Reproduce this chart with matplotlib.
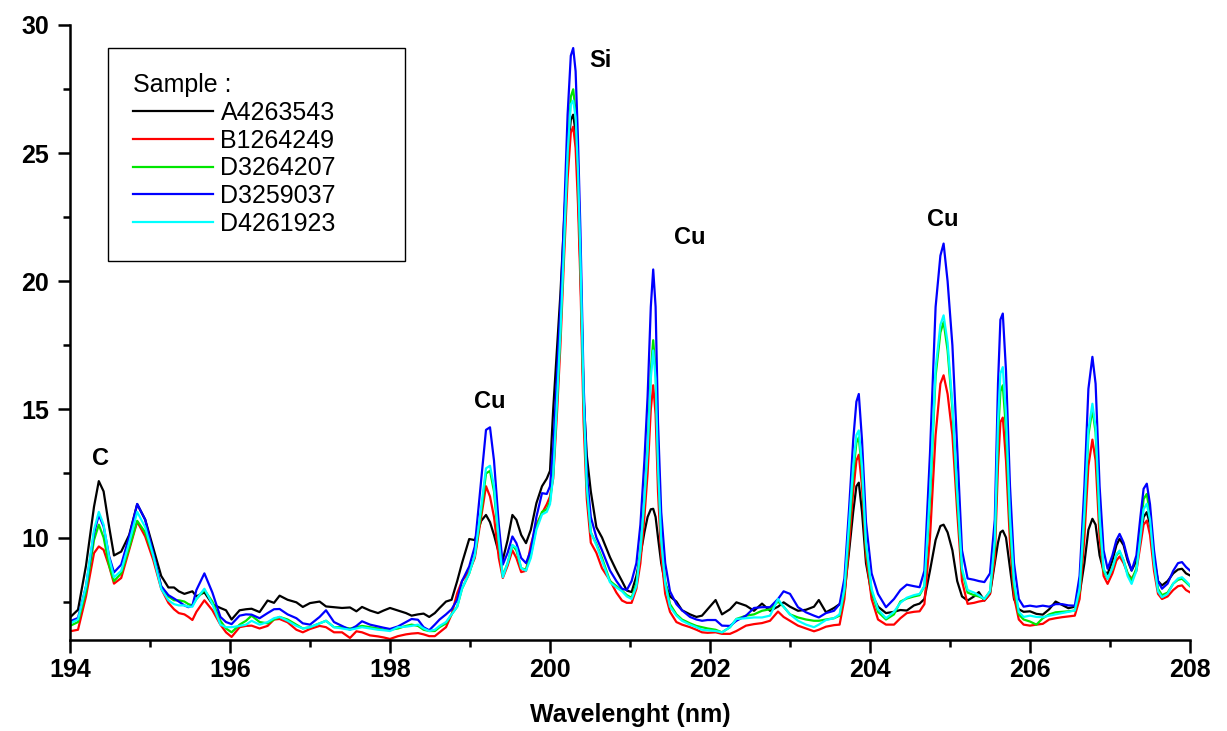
import matplotlib
matplotlib.use("Agg")
import matplotlib.pyplot as plt
from matplotlib.ticker import MultipleLocator

plt.rcParams['font.family'] = ['Liberation Sans', 'DejaVu Sans']

# ---------------- data ----------------
wavelength = [
    194.0, 194.1, 194.2, 194.3, 194.36, 194.42, 194.49, 194.55, 194.64, 194.74, 194.84, 194.94, 195.04,
    195.14, 195.23, 195.3, 195.36, 195.43, 195.48, 195.53, 195.58, 195.68, 195.78, 195.88, 195.95, 196.02,
    196.12, 196.2, 196.27, 196.37, 196.47, 196.55, 196.62, 196.72, 196.83, 196.91, 197.0, 197.12, 197.2, 197.3, 197.4, 197.5, 197.58, 197.65, 197.75, 197.85, 197.92, 198.0,
    198.1, 198.2, 198.27, 198.35, 198.42, 198.49, 198.56, 198.62, 198.7, 198.77, 198.84, 198.9, 198.99, 199.06, 199.14, 199.2, 199.25, 199.3, 199.36, 199.41, 199.47, 199.53, 199.58, 199.64, 199.7, 199.76, 199.83, 199.9, 199.96, 200.0,
    200.04, 200.09, 200.13, 200.17, 200.22, 200.26, 200.29, 200.32, 200.35, 200.38, 200.42, 200.46, 200.51, 200.58, 200.65, 200.75, 200.83, 200.9, 200.96,
    201.02, 201.08, 201.13, 201.18, 201.22, 201.26, 201.29, 201.32, 201.35, 201.39, 201.44, 201.5, 201.58, 201.65,
    201.75, 201.83, 201.9, 201.97, 202.07, 202.15, 202.25, 202.33, 202.45, 202.55, 202.65, 202.75, 202.85, 202.92, 203.0, 203.1, 203.2, 203.3, 203.36, 203.45, 203.55, 203.62,
    203.68, 203.74, 203.79, 203.83, 203.86, 203.9, 203.95, 204.02, 204.1, 204.2, 204.3, 204.38, 204.46, 204.55, 204.62,
    204.68, 204.75, 204.82, 204.88, 204.92, 204.97, 205.03, 205.09, 205.15, 205.22, 205.3, 205.36, 205.43, 205.5, 205.56,
    205.6, 205.63, 205.66, 205.7, 205.75, 205.8, 205.86, 205.92, 206.0, 206.08, 206.16, 206.24, 206.32, 206.4, 206.48, 206.56,
    206.62, 206.68, 206.73, 206.78, 206.82, 206.87, 206.92, 206.97, 207.03, 207.08, 207.12, 207.17, 207.22, 207.27,
    207.33, 207.38, 207.42, 207.46, 207.5, 207.55, 207.6, 207.65, 207.72, 207.79, 207.85, 207.9, 207.95, 208.0,
]

a4263543 = [
    6.88, 7.18, 8.9, 11.2, 12.2, 11.8, 10.4, 9.3, 9.45, 10.1, 11.3, 10.7, 9.6,
    8.5, 8.05, 8.05, 7.9, 7.8, 7.85, 7.9, 7.7, 7.86, 7.4, 7.25, 7.16, 6.8,
    7.16, 7.2, 7.22, 7.09, 7.54, 7.45, 7.73, 7.57, 7.47, 7.29, 7.44, 7.5, 7.31, 7.28, 7.25, 7.27, 7.12, 7.29, 7.15, 7.05, 7.15, 7.25,
    7.15, 7.05, 6.95, 7.0, 7.03, 6.9, 7.05, 7.25, 7.5, 7.57, 8.3, 9.0, 9.94, 9.9, 10.65, 10.88, 10.6, 10.1, 9.4, 9.13, 9.9, 10.88, 10.69, 10.1, 9.78, 10.3, 11.34, 12.0, 12.3, 12.6,
    15.0, 17.5, 19.5, 22.0, 25.0, 26.3, 26.5, 25.8, 23.8, 20.5, 15.5, 13.2, 11.8, 10.4, 10.0, 9.23, 8.71, 8.3, 7.93,
    7.87, 8.5, 9.3, 10.2, 10.8, 11.1, 11.12, 10.8, 10.0, 9.0, 8.2, 7.7, 7.5, 7.16,
    7.0, 6.9, 6.95, 7.2, 7.56, 7.0, 7.2, 7.47, 7.34, 7.14, 7.42, 7.14, 7.3, 7.47, 7.3, 7.14, 7.18, 7.3, 7.56, 7.08, 7.25, 7.4,
    7.8, 9.5, 11.0, 12.0, 12.14, 11.0, 9.0, 7.8, 7.3, 7.05, 7.1, 7.17, 7.15, 7.35, 7.42,
    7.6, 8.71, 9.9, 10.45, 10.5, 10.2, 9.5, 8.3, 7.7, 7.54, 7.7, 7.87, 7.54, 7.8, 9.0,
    9.8, 10.2, 10.27, 10.0, 8.8, 7.6, 7.2, 7.1, 7.12, 7.02, 6.99, 7.2, 7.5, 7.37, 7.24, 7.3,
    7.8, 9.0, 10.3, 10.73, 10.5, 9.3, 8.7, 8.58, 9.1, 9.7, 9.95, 9.7, 9.1, 8.71,
    9.1, 10.0, 10.8, 10.99, 10.5, 9.2, 8.3, 8.13, 8.3, 8.6, 8.75, 8.78, 8.6, 8.52,
]

b1264249 = [
    6.34, 6.4, 7.7, 9.39, 9.65, 9.52, 8.87, 8.2, 8.42, 9.52, 10.62, 10.04, 9.13,
    8.0, 7.45, 7.2, 7.05, 7.0, 6.9, 6.78, 7.1, 7.55, 7.16, 6.6, 6.3, 6.12,
    6.5, 6.55, 6.56, 6.45, 6.55, 6.8, 6.82, 6.69, 6.4, 6.3, 6.43, 6.55, 6.5, 6.3, 6.3, 6.08, 6.34, 6.3, 6.18, 6.14, 6.1, 6.04,
    6.15, 6.22, 6.25, 6.27, 6.22, 6.15, 6.15, 6.3, 6.5, 7.0, 7.83, 8.3, 8.68, 9.2, 10.8, 12.0, 11.6, 10.8, 9.2, 8.42, 8.9, 9.5, 9.2, 8.65, 8.7, 9.7, 10.5, 10.95, 11.3, 11.6,
    12.3, 15.0, 17.5, 20.5, 24.0, 25.8, 26.03, 25.2, 23.0, 20.0, 14.5, 11.5, 9.8, 9.4, 8.8, 8.32, 7.85, 7.54, 7.45,
    7.45, 8.0, 9.0, 10.8, 12.5, 15.0, 15.94, 14.8, 11.8, 9.3, 7.8, 7.1, 6.7, 6.6,
    6.5, 6.4, 6.3, 6.28, 6.3, 6.24, 6.24, 6.35, 6.56, 6.62, 6.66, 6.75, 7.11, 6.9, 6.75, 6.56, 6.45, 6.34, 6.4, 6.52, 6.58, 6.6,
    7.6, 9.8, 11.8, 13.0, 13.23, 12.0, 9.3, 7.6, 6.8, 6.6, 6.6, 6.85, 7.05, 7.1, 7.12,
    7.4, 10.0, 14.0, 16.0, 16.33, 15.6, 14.0, 11.0, 8.3, 7.41, 7.45, 7.5, 7.54, 7.8, 9.2,
    12.8, 14.5, 14.68, 13.0, 9.8, 7.7, 6.8, 6.6, 6.56, 6.6, 6.63, 6.8, 6.85, 6.89, 6.92, 6.95,
    7.6, 10.0, 12.8, 13.82, 13.0, 10.0, 8.5, 8.19, 8.6, 9.1, 9.26, 9.0, 8.6, 8.39,
    8.7, 9.7, 10.5, 10.66, 10.1, 8.7, 7.8, 7.6, 7.7, 7.95, 8.1, 8.13, 7.95, 7.86,
]

d3264207 = [
    6.55, 6.7, 7.9, 9.9, 10.5, 10.0, 8.9, 8.3, 8.6, 9.6, 10.65, 10.2, 9.3,
    8.1, 7.7, 7.55, 7.55, 7.5, 7.4, 7.35, 7.6, 7.95, 7.5, 6.75, 6.45, 6.3,
    6.6, 6.75, 6.95, 6.7, 6.65, 6.8, 6.9, 6.8, 6.6, 6.45, 6.5, 6.65, 6.75, 6.5, 6.5, 6.45, 6.5, 6.55, 6.5, 6.45, 6.4, 6.4,
    6.45, 6.55, 6.6, 6.55, 6.4, 6.35, 6.35, 6.5, 6.65, 7.0, 7.3, 8.0, 8.6, 9.3, 11.0, 12.5, 12.6, 11.8, 9.8, 8.5, 9.0, 9.7, 9.5, 8.8, 8.75, 9.3, 10.4, 11.0, 11.1, 11.4,
    12.5, 15.5, 18.0, 21.0, 25.0, 27.2, 27.49, 26.6, 24.5, 21.0, 15.5, 12.0, 10.2, 9.75, 9.2, 8.3, 8.1, 7.93, 7.75,
    7.65, 8.2, 9.5, 11.5, 13.5, 16.5, 17.7, 16.5, 13.0, 10.0, 8.3, 7.4, 7.0, 6.8,
    6.65, 6.55, 6.5, 6.45, 6.4, 6.3, 6.5, 6.82, 6.95, 7.0, 7.14, 7.2, 7.5, 7.3, 7.0, 6.88, 6.8, 6.75, 6.75, 6.8, 6.85, 6.95,
    7.9, 10.3, 12.5, 13.7, 13.9, 12.6, 9.6, 7.9, 7.1, 6.8, 7.0, 7.5, 7.62, 7.7, 7.75,
    8.1, 11.5, 16.3, 18.0, 18.41, 17.3, 15.0, 11.6, 8.7, 7.85, 7.75, 7.7, 7.6, 7.9, 9.7,
    14.0, 15.7, 15.94, 14.2, 10.5, 8.1, 7.0, 6.8, 6.72, 6.6, 6.85, 7.0, 7.08, 7.1, 7.12, 7.15,
    7.9, 10.8, 14.0, 15.0, 14.1, 10.6, 8.7, 8.39, 8.8, 9.3, 9.45, 9.1, 8.6, 8.32,
    8.8, 10.3, 11.5, 11.7, 10.9, 9.1, 8.0, 7.75, 7.85, 8.2, 8.35, 8.39, 8.25, 8.1,
]

d3259037 = [
    6.73, 6.86, 8.1, 10.17, 10.88, 10.43, 9.26, 8.64, 8.94, 10.04, 11.31, 10.69, 9.39,
    8.1, 7.75, 7.62, 7.5, 7.35, 7.28, 7.35, 7.95, 8.6, 7.85, 6.9, 6.7, 6.62,
    6.95, 7.0, 6.99, 6.85, 7.05, 7.2, 7.21, 7.0, 6.85, 6.65, 6.6, 6.9, 7.16, 6.7, 6.55, 6.4, 6.55, 6.73, 6.6, 6.53, 6.48, 6.43,
    6.53, 6.7, 6.82, 6.79, 6.5, 6.38, 6.6, 6.8, 7.0, 7.2, 7.57, 8.3, 8.87, 9.65, 12.25, 14.2, 14.3, 13.0, 10.5, 8.94, 9.4, 10.04, 9.78, 9.2, 9.0, 9.5, 10.8, 11.73, 11.7, 12.0,
    13.5, 16.5, 19.0, 22.0, 26.5, 28.8, 29.1, 28.2, 25.5, 22.0, 16.0, 12.5, 10.8, 10.0, 9.5, 8.71, 8.3, 8.0, 7.95,
    8.3, 9.0, 10.5, 13.0, 15.5, 19.0, 20.46, 19.0, 14.5, 11.0, 9.0, 7.9, 7.4, 7.16,
    6.9, 6.8, 6.75, 6.78, 6.78, 6.56, 6.55, 6.75, 6.95, 7.25, 7.28, 7.28, 7.6, 7.9, 7.8, 7.28, 7.08, 6.95, 6.88, 7.05, 7.14, 7.4,
    8.4, 11.2, 13.8, 15.3, 15.6, 13.8, 10.6, 8.6, 7.8, 7.28, 7.6, 7.95, 8.16, 8.1, 8.06,
    8.7, 13.3, 19.0, 21.0, 21.47, 20.0, 17.5, 13.5, 9.5, 8.4, 8.35, 8.3, 8.26, 8.6, 10.7,
    16.0, 18.5, 18.74, 16.5, 12.0, 9.0, 7.6, 7.3, 7.34, 7.3, 7.34, 7.3, 7.4, 7.4, 7.35, 7.34,
    8.5, 12.0, 15.8, 17.05, 16.0, 12.0, 9.5, 8.78, 9.3, 9.9, 10.14, 9.8, 9.2, 8.71,
    9.3, 10.8, 11.9, 12.1, 11.3, 9.5, 8.3, 8.0, 8.2, 8.7, 9.0, 9.04, 8.85, 8.71,
]

d4261923 = [
    6.65, 6.8, 8.1, 10.3, 11.0, 10.5, 9.2, 8.45, 8.7, 9.8, 11.0, 10.4, 9.3,
    8.0, 7.55, 7.4, 7.35, 7.35, 7.3, 7.3, 7.6, 8.0, 7.4, 6.6, 6.5, 6.5,
    6.55, 6.6, 6.75, 6.6, 6.7, 6.85, 6.9, 6.75, 6.55, 6.45, 6.5, 6.65, 6.75, 6.5, 6.45, 6.4, 6.45, 6.5, 6.45, 6.4, 6.38, 6.35,
    6.5, 6.52, 6.55, 6.6, 6.45, 6.35, 6.4, 6.55, 6.7, 7.0, 7.3, 8.0, 8.6, 9.3, 11.2, 12.7, 12.8, 12.0, 9.9, 8.45, 9.0, 9.7, 9.6, 8.8, 8.7, 9.2, 10.3, 10.9, 11.0, 11.3,
    12.4, 15.5, 18.0, 21.0, 25.0, 26.9, 27.05, 26.4, 24.3, 21.0, 15.5, 12.0, 10.2, 9.7, 9.1, 8.25, 8.05, 7.9, 7.7,
    7.6, 8.1, 9.5, 11.5, 13.4, 16.2, 17.3, 16.2, 12.8, 9.9, 8.2, 7.3, 6.95, 6.75,
    6.6, 6.5, 6.4, 6.38, 6.35, 6.3, 6.5, 6.82, 6.85, 6.88, 6.88, 6.95, 7.6, 7.3, 7.0, 6.75, 6.6, 6.5, 6.6, 6.78, 6.85, 7.0,
    8.0, 10.6, 12.8, 14.0, 14.18, 12.8, 9.8, 8.0, 7.2, 6.85, 7.1, 7.45, 7.65, 7.75, 7.8,
    8.1, 11.8, 16.6, 18.3, 18.67, 17.6, 15.2, 11.8, 8.8, 7.95, 7.85, 7.75, 7.6, 7.9, 9.9,
    14.5, 16.4, 16.65, 14.8, 10.8, 8.3, 7.1, 6.9, 6.95, 6.9, 6.89, 6.95, 7.0, 7.05, 7.1, 7.15,
    8.0, 11.0, 14.2, 15.22, 14.3, 10.8, 8.8, 8.39, 8.8, 9.35, 9.49, 9.1, 8.5, 8.19,
    8.7, 10.0, 11.1, 11.32, 10.7, 9.0, 7.9, 7.67, 7.8, 8.2, 8.4, 8.45, 8.3, 8.13,
]

sample_names = ["A4263543", "B1264249", "D3264207", "D3259037", "D4261923"]
series = [a4263543, b1264249, d3264207, d3259037, d4261923]
colors = ["#000000", "#ff0000", "#00e600", "#0000ff", "#00ffff"]

peak_labels = ["C", "Cu", "Si", "Cu", "Cu"]
peak_label_x = [194.375, 199.25, 200.63, 201.75, 204.91]
peak_label_y = [13.1, 15.3, 28.6, 21.7, 22.4]

x_ticks = [194, 196, 198, 200, 202, 204, 206, 208]
y_ticks = [10, 15, 20, 25, 30]

# ---------------- figure ----------------
W, H = 1227, 731
fig = plt.figure(figsize=(W / 100, H / 100), dpi=100)
ax = fig.add_axes([70 / W, 1 - 640 / H, 1120 / W, 615 / H])

for name, vals, col in zip(sample_names, series, colors):
    ax.plot(wavelength, vals, color=col, lw=1.6, label=name, solid_joinstyle='round')

ax.set_xlim(194, 208)
ax.set_ylim(6, 30)
ax.set_xticks(x_ticks)
ax.set_yticks(y_ticks)
ax.xaxis.set_minor_locator(MultipleLocator(1))
ax.yaxis.set_minor_locator(MultipleLocator(2.5))

for side in ("top", "right"):
    ax.spines[side].set_visible(False)
for side in ("left", "bottom"):
    ax.spines[side].set_linewidth(1.8)

ax.tick_params(which="major", direction="out", length=9, width=1.8, labelsize=18)
ax.tick_params(which="minor", direction="out", length=5, width=1.8)
ax.tick_params(axis="x", which="major", pad=4)
ax.tick_params(axis="y", which="major", pad=6)
for lbl in ax.get_xticklabels() + ax.get_yticklabels():
    lbl.set_fontweight("bold")

ax.set_xlabel("Wavelenght (nm)", fontsize=18, fontweight="bold", labelpad=15)

for t, x, y in zip(peak_labels, peak_label_x, peak_label_y):
    ax.text(x, y, t, fontsize=17, fontweight="bold", ha="center", va="center")

leg = ax.legend(title="Sample :", loc="upper left",
                bbox_to_anchor=(0.0339, 0.5724, 0.265, 0.390), mode="expand",
                fontsize=18, title_fontsize=18, alignment="left",
                frameon=True, fancybox=False, edgecolor="black", framealpha=1,
                handlelength=3.2, handletextpad=0.3, labelspacing=0.15,
                borderpad=1.0, borderaxespad=0)
leg.get_frame().set_linewidth(1.0)

fig.savefig("out.png", dpi=100)
